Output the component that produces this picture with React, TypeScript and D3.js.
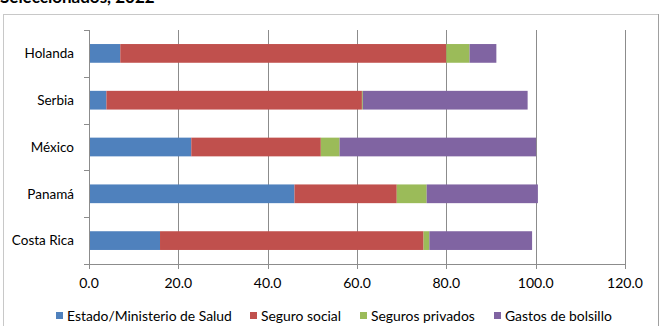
import { useRef, useEffect } from "react";
import * as d3 from "d3";

const countries = ["Holanda", "Serbia", "México", "Panamá", "Costa Rica"];
const seriesNames = ["Estado/Ministerio de Salud", "Seguro social", "Seguros privados", "Gastos de bolsillo"];
const seriesColors = ["#4f81bd", "#c0504d", "#9bbb59", "#8064a2"];
const estado = [7.0, 3.9, 22.9, 46.0, 15.9];
const seguroSocial = [73.0, 57.2, 29.0, 22.9, 59.0];
const segurosPrivados = [5.2, 0.2, 4.2, 6.7, 1.3];
const gastosBolsillo = [6.0, 36.9, 44.0, 24.9, 23.0];
const xTicks = [0, 20, 40, 60, 80, 100, 120];

export default function App() {
  const svgRef = useRef<SVGSVGElement>(null);

  useEffect(() => {
    const width = 664;
    const height = 326;
    const margin = { top: 30, right: 39, bottom: 62, left: 89 };
    const innerW = width - margin.left - margin.right;
    const innerH = height - margin.top - margin.bottom;
    const font = "Lato, 'Open Sans', sans-serif";

    const svg = d3.select(svgRef.current);
    svg.selectAll("*").remove();

    // title, cut off at the top
    svg.append("text")
      .attr("x", 0)
      .attr("y", 3)
      .attr("font-family", font)
      .attr("font-weight", "bold")
      .attr("font-size", "17px")
      .attr("fill", "#000")
      .text("Seleccionados, 2022");

    // outer chart box
    svg.append("rect")
      .attr("x", 3.5)
      .attr("y", 14.5)
      .attr("width", 655)
      .attr("height", 330)
      .attr("fill", "none")
      .attr("stroke", "#c8c8c8");
    svg.append("line")
      .attr("x1", 658.5).attr("x2", 658.5)
      .attr("y1", 14).attr("y2", 326)
      .attr("stroke", "#a0a0a0");

    const rows = countries.map((c, i) => ({
      country: c,
      values: [estado[i], seguroSocial[i], segurosPrivados[i], gastosBolsillo[i]],
    }));

    const x = d3.scaleLinear().domain([0, 120]).range([0, innerW]);
    const y = d3.scaleBand().domain(countries).range([0, innerH]).paddingInner(0.6).paddingOuter(0.3);
    const yTicks = d3.scaleBand().domain(countries).range([0, innerH]);

    const g = svg.append("g").attr("transform", `translate(${margin.left},${margin.top})`);

    // vertical grid
    g.append("g")
      .selectAll("line")
      .data(xTicks.slice(1))
      .enter()
      .append("line")
      .attr("x1", (d) => Math.round(x(d)) + 0.5)
      .attr("x2", (d) => Math.round(x(d)) + 0.5)
      .attr("y1", 0)
      .attr("y2", innerH)
      .attr("stroke", "#8c8c8c")
      .attr("stroke-width", 1);

    // stacked bars
    rows.forEach((r) => {
      let acc = 0;
      r.values.forEach((v, k) => {
        g.append("rect")
          .attr("x", x(acc))
          .attr("y", y(r.country)!)
          .attr("width", x(acc + v) - x(acc))
          .attr("height", y.bandwidth())
          .attr("fill", seriesColors[k]);
        acc += v;
      });
    });

    // y axis
    g.append("line")
      .attr("x1", 0.5).attr("x2", 0.5)
      .attr("y1", 0).attr("y2", innerH + 5)
      .attr("stroke", "#8c8c8c");
    const yEdges = countries.map((c) => yTicks(c)!).concat([innerH]);
    g.append("g")
      .selectAll("line")
      .data(yEdges)
      .enter()
      .append("line")
      .attr("x1", -5)
      .attr("x2", 0)
      .attr("y1", (d) => Math.round(d) + 0.5)
      .attr("y2", (d) => Math.round(d) + 0.5)
      .attr("stroke", "#8c8c8c");
    g.append("g")
      .selectAll("text")
      .data(countries)
      .enter()
      .append("text")
      .attr("x", -15)
      .attr("y", (d) => yTicks(d)! + yTicks.bandwidth() / 2)
      .attr("dy", "0.35em")
      .attr("text-anchor", "end")
      .attr("font-family", font)
      .attr("font-size", "13.5px")
      .attr("fill", "#000")
      .text((d) => d);

    // x axis
    g.append("line")
      .attr("x1", -5).attr("x2", innerW)
      .attr("y1", innerH + 0.5).attr("y2", innerH + 0.5)
      .attr("stroke", "#8c8c8c");
    g.append("g")
      .selectAll("line")
      .data(xTicks)
      .enter()
      .append("line")
      .attr("x1", (d) => Math.round(x(d)) + 0.5)
      .attr("x2", (d) => Math.round(x(d)) + 0.5)
      .attr("y1", innerH)
      .attr("y2", innerH + 5)
      .attr("stroke", "#8c8c8c");
    g.append("g")
      .selectAll("text")
      .data(xTicks)
      .enter()
      .append("text")
      .attr("x", (d) => x(d))
      .attr("y", innerH + 19)
      .attr("dy", "0.35em")
      .attr("text-anchor", "middle")
      .attr("font-family", font)
      .attr("font-size", "14px")
      .attr("fill", "#000")
      .text((d) => d3.format(".1f")(d));

    // legend
    const legendX = [56, 250, 360, 494];
    const legend = svg.append("g").attr("transform", "translate(0,316)");
    seriesNames.forEach((name, k) => {
      legend.append("rect")
        .attr("x", legendX[k])
        .attr("y", -4)
        .attr("width", 7)
        .attr("height", 7)
        .attr("fill", seriesColors[k]);
      legend.append("text")
        .attr("x", legendX[k] + 11)
        .attr("y", 0)
        .attr("dy", "0.35em")
        .attr("font-family", font)
        .attr("font-size", "13.9px")
        .attr("fill", "#000")
        .text(name);
    });
  }, []);

  return (
    <div style={{ position: "absolute", left: 0, top: 0 }}>
      <svg ref={svgRef} width={664} height={326} style={{ display: "block", background: "#fff" }} />
    </div>
  );
}
